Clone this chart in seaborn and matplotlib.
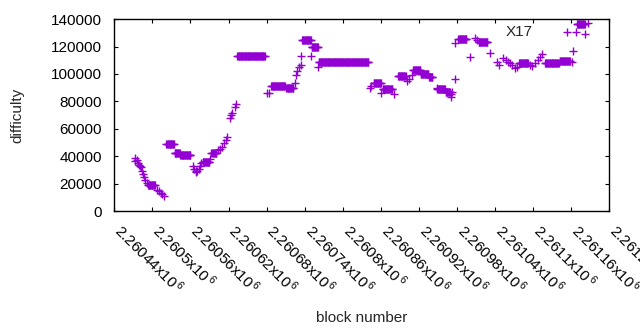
import numpy as np
import pandas as pd
import seaborn as sns
import matplotlib
matplotlib.use('Agg')
import matplotlib.pyplot as plt
from matplotlib.ticker import FixedLocator, FuncFormatter
from matplotlib.transforms import ScaledTranslation

# runs of consecutive blocks with (nearly) the same difficulty
run_start = [2260493, 2260522, 2260535, 2260544, 2260580, 2260593, 2260634, 2260687,
             2260711, 2260736, 2260751, 2260762, 2260849, 2260863, 2260887, 2260911,
             2260923, 2260936, 2260949, 2260962, 2260982, 2261014, 2261078, 2261119,
             2261142, 2261169]
run_end = [2260504, 2260534, 2260543, 2260560, 2260590, 2260601, 2260677, 2260709,
           2260722, 2260750, 2260761, 2260840, 2260860, 2260878, 2260899, 2260922,
           2260935, 2260941, 2260961, 2260969, 2260995, 2261028, 2261092, 2261140,
           2261158, 2261181]
run_diff = [19000, 48700, 42100, 40700, 36100, 42500, 113000, 91300,
            89600, 124900, 120000, 109000, 93700, 88700, 98200, 102900,
            100000, 97600, 88700, 86700, 125300, 123000, 107800, 107800,
            109800, 136600]

# single blocks
pt_block = [2260472, 2260473, 2260475, 2260477, 2260479, 2260480, 2260482, 2260484,
            2260486, 2260487, 2260489, 2260492, 2260508, 2260510, 2260513, 2260515,
            2260518,
            2260564, 2260566, 2260568, 2260569, 2260571, 2260573, 2260575, 2260577,
            2260579, 2260591, 2260603, 2260606, 2260609, 2260613, 2260616, 2260617,
            2260623, 2260624, 2260625, 2260630, 2260631,
            2260680, 2260683, 2260725, 2260726, 2260728, 2260731, 2260734, 2260734,
            2260750, 2260761,
            2260843, 2260845, 2260861, 2260881, 2260902, 2260905, 2260909, 2260948,
            2260971, 2260971, 2260972, 2260977, 2260977,
            2261001, 2261008, 2261012, 2261032, 2261043, 2261046, 2261053, 2261058,
            2261061, 2261064, 2261067, 2261071, 2261074, 2261095, 2261098, 2261103,
            2261107, 2261111, 2261114, 2261161, 2261163, 2261154, 2261167, 2261182,
            2261186]
pt_diff = [38500, 36700, 37500, 35000, 33600, 33000, 31900, 29500,
           27000, 24600, 22600, 20200, 15300, 14500, 13400, 12500,
           11200,
           32900, 30700, 29400, 28700, 29200, 30500, 32900, 35100,
           36000, 38000, 44500, 45500, 46900, 49900, 51800, 53800,
           67700, 70100, 71300, 76200, 77900,
           86000, 86000, 93300, 99300, 102200, 105400, 106600, 113400,
           113400, 104900,
           89600, 91300, 86000, 85400, 95100, 96500, 99300, 90000,
           85100, 83200, 86900, 96400, 122400,
           112200, 126500, 124800, 115100, 108600, 106600, 111900, 110200,
           109000, 107800, 106500, 104200, 105300, 106800, 105900, 107800,
           110200, 112700, 114600, 108600, 117100, 130500, 130900, 129000,
           137100]

x_ticks = list(range(2260440, 2261221, 60))
y_ticks = list(range(0, 140001, 20000))

blocks = list(pt_block)
diffs = list(pt_diff)
for s, e, d in zip(run_start, run_end, run_diff):
    for b in range(s, e + 1):
        blocks.append(b)
        diffs.append(d)
df = pd.DataFrame({'block': blocks, 'difficulty': diffs})

sns.set_style('white')
plt.rcParams['font.family'] = ['Liberation Sans', 'DejaVu Sans']
plt.rcParams['mathtext.fontset'] = 'custom'
plt.rcParams['mathtext.rm'] = 'Liberation Sans'
plt.rcParams['mathtext.default'] = 'regular'

fig, ax = plt.subplots(figsize=(6.4, 3.3), dpi=100)
fig.subplots_adjust(left=0.1786, right=0.952, top=0.942, bottom=0.3606)

sns.scatterplot(data=df, x='block', y='difficulty', marker='+', s=34,
                color='#9400d3', linewidth=1.0, ax=ax, label='X17')

ax.set_xlim(2260440, 2261220)
ax.set_ylim(0, 140000)
ax.xaxis.set_major_locator(FixedLocator(x_ticks))
ax.yaxis.set_major_locator(FixedLocator(y_ticks))
ax.xaxis.set_major_formatter(FuncFormatter(lambda v, p: f'{v / 1e6:g}x10$^{{\\,6}}$'))
ax.yaxis.set_major_formatter(FuncFormatter(lambda v, p: f'{int(v)}'))

ax.tick_params(axis='both', direction='in', length=3, width=0.8, colors='black',
               labelsize=11, top=True, right=True, bottom=True, left=True)
ax.tick_params(axis='x', pad=7)
ax.tick_params(axis='y', pad=9)
shift = ScaledTranslation(0.10, 0.0, fig.dpi_scale_trans)
for lab in ax.get_xticklabels():
    lab.set_rotation(-45)
    lab.set_ha('left')
    lab.set_va('top')
    lab.set_rotation_mode('anchor')
    lab.set_transform(lab.get_transform() + shift)

for sp in ax.spines.values():
    sp.set_visible(True)
    sp.set_color('black')
    sp.set_linewidth(1.0)

ax.set_xlabel('block number', fontsize=11, labelpad=10)
ax.set_ylabel('difficulty', fontsize=11, labelpad=19)

leg = ax.legend(loc='center right', bbox_to_anchor=(0.846, 0.934), frameon=False,
                handlelength=0, handletextpad=0, borderpad=0, borderaxespad=0,
                fontsize=11)
for h in leg.legend_handles:
    h.set_visible(False)

fig.savefig('out.png', dpi=100)
